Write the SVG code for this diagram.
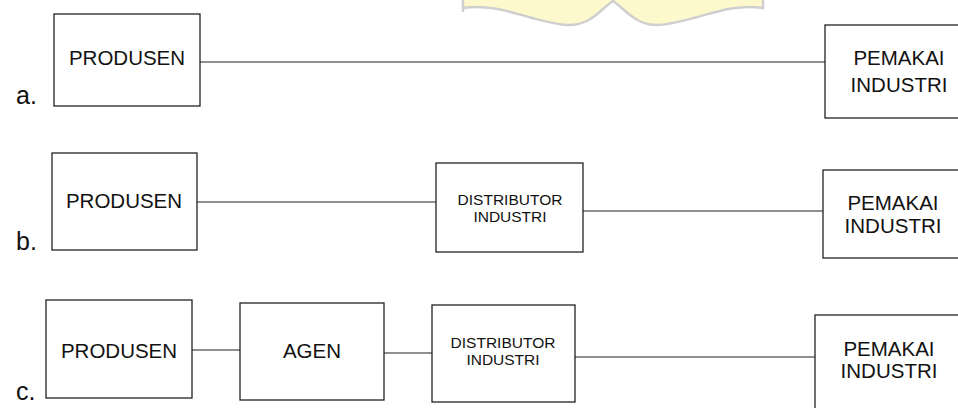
<svg xmlns="http://www.w3.org/2000/svg" width="958" height="408" viewBox="0 0 958 408">
<style>
  .box { fill: none; stroke: #222; stroke-width: 1.3; }
  .conn { stroke: #222; stroke-width: 1.1; fill: none; }
  .t { font-family: "Liberation Sans", Arial, sans-serif; fill: #111; text-anchor: middle; }
  .big { font-size: 20.5px; }
  .small { font-size: 15.5px; }
  .lbl { font-family: "Liberation Sans", Arial, sans-serif; fill: #111; font-size: 25px; }
</style>
<rect width="958" height="408" fill="#ffffff"/>
<g id="watermark">
  <path d="M463,0 L463,8 C500,2 530,22 567,25 C590,26 600,10 613,1 C626,10 636,26 659,25 C696,22 726,2 763,8 L763,0 Z" fill="#fdf9cc"/>
  <path d="M463,0 L463,12 M463,8 C500,2 530,22 567,25 C590,26 600,10 613,1 C626,10 636,26 659,25 C696,22 726,2 763,8 L763,0" fill="none" stroke="#cfcfcf" stroke-width="2.5"/>
</g>
<g id="labels">
  <text class="lbl" x="16" y="104">a.</text>
  <text class="lbl" x="16" y="250">b.</text>
  <text class="lbl" x="16" y="400">c.</text>
</g>
<g id="connectors">
  <line class="conn" x1="200" y1="62" x2="825" y2="62"/>
  <line class="conn" x1="197" y1="202" x2="436" y2="202"/>
  <line class="conn" x1="583" y1="211" x2="823" y2="211"/>
  <line class="conn" x1="192" y1="350" x2="240" y2="350"/>
  <line class="conn" x1="384" y1="353" x2="432" y2="353"/>
  <line class="conn" x1="575" y1="357" x2="815" y2="357"/>
</g>
<g id="a-produsen">
  <rect class="box" x="54" y="14" width="146" height="92"/>
  <text class="t big" x="127" y="65">PRODUSEN</text>
</g>
<g id="a-pemakai">
  <rect class="box" x="825" y="25" width="150" height="93"/>
  <text class="t big" x="899" y="65">PEMAKAI</text>
  <text class="t big" x="899" y="92">INDUSTRI</text>
</g>
<g id="b-produsen">
  <rect class="box" x="52" y="153" width="145" height="97"/>
  <text class="t big" x="124" y="208">PRODUSEN</text>
</g>
<g id="b-distributor">
  <rect class="box" x="436" y="163" width="147" height="89"/>
  <text class="t small" x="510" y="205">DISTRIBUTOR</text>
  <text class="t small" x="510" y="222">INDUSTRI</text>
</g>
<g id="b-pemakai">
  <rect class="box" x="823" y="170" width="150" height="88"/>
  <text class="t big" x="893" y="210">PEMAKAI</text>
  <text class="t big" x="893" y="233">INDUSTRI</text>
</g>
<g id="c-produsen">
  <rect class="box" x="46" y="300" width="146" height="98"/>
  <text class="t big" x="119" y="358">PRODUSEN</text>
</g>
<g id="c-agen">
  <rect class="box" x="240" y="303" width="144" height="97"/>
  <text class="t big" x="312" y="358">AGEN</text>
</g>
<g id="c-distributor">
  <rect class="box" x="432" y="305" width="143" height="97"/>
  <text class="t small" x="503" y="348">DISTRIBUTOR</text>
  <text class="t small" x="503" y="365">INDUSTRI</text>
</g>
<g id="c-pemakai">
  <rect class="box" x="815" y="315" width="160" height="100"/>
  <text class="t big" x="889" y="356">PEMAKAI</text>
  <text class="t big" x="889" y="378">INDUSTRI</text>
</g>
</svg>
